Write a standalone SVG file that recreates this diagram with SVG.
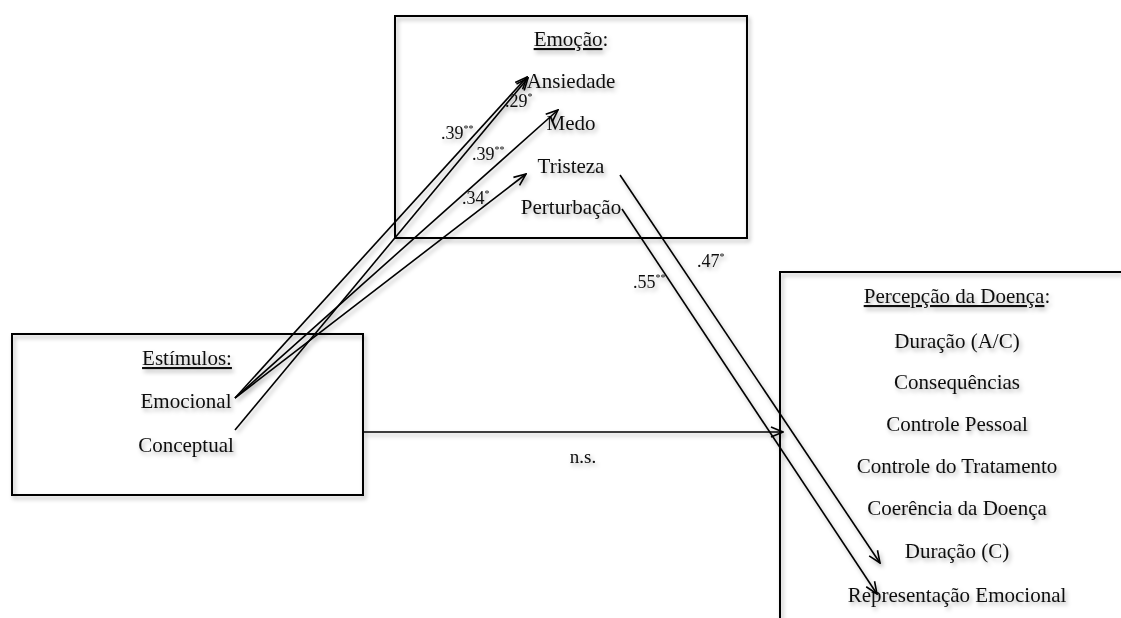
<svg xmlns="http://www.w3.org/2000/svg" width="1121" height="618" viewBox="0 0 1121 618">
<style>
.box{fill:none;stroke:#000;stroke-width:2}
.t{font-family:"Liberation Serif","Times New Roman",serif;font-size:21px;fill:#111;text-anchor:middle}
.lb{font-family:"Liberation Serif","Times New Roman",serif;font-size:18px;fill:#111}
.sup{font-size:10px}
.u{text-decoration:underline}
.c{fill:none;stroke:#000;stroke-width:1.6}
</style>
<defs>
<filter id="sh" x="-10%" y="-10%" width="130%" height="130%">
<feDropShadow dx="2" dy="3" stdDeviation="2" flood-color="#000" flood-opacity="0.3"/>
</filter>
<marker id="ah" viewBox="0 0 14 12" refX="13" refY="6" markerWidth="14" markerHeight="12" markerUnits="userSpaceOnUse" orient="auto">
<path d="M1,1 L13,6 L1,11" fill="none" stroke="#000" stroke-width="1.6"/>
</marker>
</defs>
<rect width="1121" height="618" fill="#fff"/>
<g filter="url(#sh)">
<g id="emocao">
<rect class="box" x="395" y="16" width="352" height="222"/>
<text class="t" x="571" y="46"><tspan class="u">Emoção</tspan>:</text>
<text class="t" x="571" y="88">Ansiedade</text>
<text class="t" x="571" y="130">Medo</text>
<text class="t" x="571" y="173">Tristeza</text>
<text class="t" x="571" y="214">Perturbação</text>
</g>
<g id="estimulos">
<rect class="box" x="12" y="334" width="351" height="161"/>
<text class="t" x="187" y="365"><tspan class="u">Estímulos:</tspan></text>
<text class="t" x="186" y="408">Emocional</text>
<text class="t" x="186" y="452">Conceptual</text>
</g>
<g id="percepcao">
<path class="box" d="M1121,272 H780 V618"/>
<text class="t" x="957" y="303"><tspan class="u">Percepção da Doença</tspan>:</text>
<text class="t" x="957" y="348">Duração (A/C)</text>
<text class="t" x="957" y="389">Consequências</text>
<text class="t" x="957" y="431">Controle Pessoal</text>
<text class="t" x="957" y="473">Controle do Tratamento</text>
<text class="t" x="957" y="515">Coerência da Doença</text>
<text class="t" x="957" y="558">Duração (C)</text>
<text class="t" x="957" y="602">Representação Emocional</text>
</g>
<g id="connectors">
<line class="c" x1="235" y1="398" x2="527" y2="77" marker-end="url(#ah)"/>
<line class="c" x1="235" y1="430" x2="528" y2="78" marker-end="url(#ah)"/>
<line class="c" x1="235" y1="398" x2="558" y2="110" marker-end="url(#ah)"/>
<line class="c" x1="235" y1="398" x2="526" y2="174" marker-end="url(#ah)"/>
<line class="c" x1="620" y1="175" x2="880" y2="563" marker-end="url(#ah)"/>
<line class="c" x1="622" y1="209" x2="877" y2="594" marker-end="url(#ah)"/>
<line class="c" x1="363" y1="432" x2="783" y2="432" marker-end="url(#ah)"/>
</g>
<g id="labels">
<text class="lb" x="441" y="139">.39<tspan class="sup" dy="-7">**</tspan></text>
<text class="lb" x="505" y="107">.29<tspan class="sup" dy="-7">*</tspan></text>
<text class="lb" x="472" y="160">.39<tspan class="sup" dy="-7">**</tspan></text>
<text class="lb" x="462" y="204">.34<tspan class="sup" dy="-7">*</tspan></text>
<text class="lb" x="697" y="267">.47<tspan class="sup" dy="-7">*</tspan></text>
<text class="lb" x="633" y="288">.55<tspan class="sup" dy="-7">**</tspan></text>
<text class="lb" x="583" y="463" style="text-anchor:middle;font-size:19px">n.s.</text>
</g>
</g>
</svg>
